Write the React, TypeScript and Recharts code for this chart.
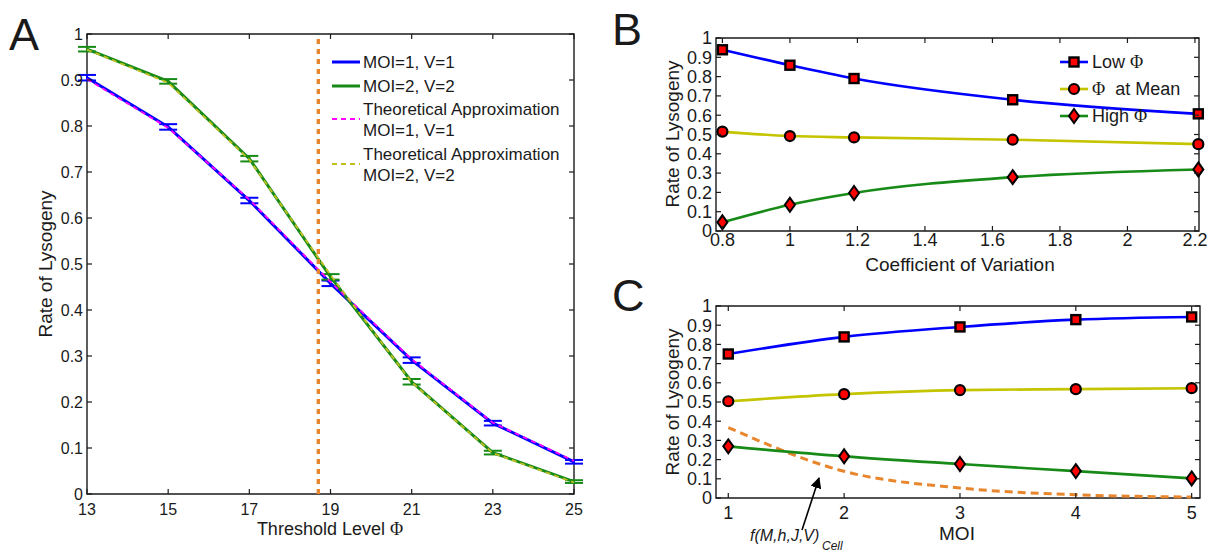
import React from 'react';
import { LineChart, Line, XAxis, YAxis, ReferenceLine, ReferenceArea, ErrorBar } from 'recharts';

const FONT = '"Liberation Sans", Arial, Helvetica, sans-serif';
const SERIF = '"Liberation Serif", "DejaVu Serif", serif';
const INK = '#1a1a1a';
const BLUE = '#0000ff';
const GREEN = '#178a17';
const YELLOW = '#c4c400';
const ORANGE = '#e8862e';

// panel A: rate of lysogeny vs threshold level
const thresholds = [13, 15, 17, 19, 21, 23, 25];
const moi1Sim = [0.905, 0.798, 0.638, 0.458, 0.291, 0.154, 0.07];
const moi1Err = [0.006, 0.006, 0.006, 0.006, 0.006, 0.005, 0.004];
const moi2Sim = [0.967, 0.897, 0.729, 0.472, 0.244, 0.09, 0.027];
const moi2Err = [0.005, 0.005, 0.006, 0.006, 0.006, 0.004, 0.003];
const moi1Theory = [0.902, 0.796, 0.64, 0.461, 0.293, 0.155, 0.072];
const moi2Theory = [0.966, 0.894, 0.727, 0.476, 0.243, 0.089, 0.025];
const meanThreshold = 18.7;
const rateTicks = [0, 0.1, 0.2, 0.3, 0.4, 0.5, 0.6, 0.7, 0.8, 0.9, 1];

// panel B: vs coefficient of variation
const cvValues = [0.8, 1, 1.19, 1.66, 2.21];
const cvTicks = [0.8, 1, 1.2, 1.4, 1.6, 1.8, 2, 2.2];
const lowPhiB = [0.939, 0.859, 0.79, 0.68, 0.607];
const meanPhiB = [0.515, 0.492, 0.485, 0.473, 0.45];
const highPhiB = [0.045, 0.136, 0.197, 0.279, 0.319];

// panel C: vs MOI
const moiValues = [1, 2, 3, 4, 5];
const lowPhiC = [0.75, 0.839, 0.891, 0.929, 0.943];
const meanPhiC = [0.504, 0.541, 0.562, 0.567, 0.572];
const highPhiC = [0.269, 0.217, 0.177, 0.14, 0.102];
const fCell = [0.367, 0.139, 0.052, 0.017, 0.005];

const dataA = thresholds.map((x, i) => ({
  x,
  sim1: moi1Sim[i],
  err1: moi1Err[i],
  sim2: moi2Sim[i],
  err2: moi2Err[i],
  th1: moi1Theory[i],
  th2: moi2Theory[i],
}));
const dataB = cvValues.map((x, i) => ({ x, low: lowPhiB[i], mean: meanPhiB[i], high: highPhiB[i] }));
const dataC = moiValues.map((x, i) => ({ x, low: lowPhiC[i], mean: meanPhiC[i], high: highPhiC[i], f: fCell[i] }));

const Square = ({ cx, cy }: { cx: number; cy: number }) => (
  <rect x={cx - 4.5} y={cy - 4.5} width={9} height={9} fill="#ff0000" stroke="#000" strokeWidth={2.4} />
);
const Dot = ({ cx, cy }: { cx: number; cy: number }) => (
  <circle cx={cx} cy={cy} r={5} fill="#ff0000" stroke="#000" strokeWidth={2.2} />
);
const Diamond = ({ cx, cy }: { cx: number; cy: number }) => (
  <polygon
    points={`${cx},${cy - 7} ${cx + 5},${cy} ${cx},${cy + 7} ${cx - 5},${cy}`}
    fill="#ff0000"
    stroke="#000"
    strokeWidth={2}
  />
);

// matlab-ish inward ticks on all four sides
const yTick = (plotW: number, fontSize: number) => (p: any) => (
  <g>
    <line x1={p.x} x2={p.x + 5} y1={p.y} y2={p.y} stroke={INK} strokeWidth={1.2} />
    <line x1={p.x + plotW} x2={p.x + plotW - 5} y1={p.y} y2={p.y} stroke={INK} strokeWidth={1.2} />
    <text x={p.x - 4} y={p.y} dy="0.35em" textAnchor="end" fontSize={fontSize} fontFamily={FONT} fill={INK}>
      {p.payload.value}
    </text>
  </g>
);
const xTick = (plotH: number, fontSize: number, gap: number) => (p: any) => (
  <g>
    <line x1={p.x} x2={p.x} y1={p.y} y2={p.y - 5} stroke={INK} strokeWidth={1.2} />
    <line x1={p.x} x2={p.x} y1={p.y - plotH} y2={p.y - plotH + 5} stroke={INK} strokeWidth={1.2} />
    <text x={p.x} y={p.y + gap} dy="0.35em" textAnchor="middle" fontSize={fontSize} fontFamily={FONT} fill={INK}>
      {p.payload.value}
    </text>
  </g>
);

const AXW = 40; // y axis box width
const AXH = 30; // x axis box height

const PanelA = () => {
  const margin = { top: 34, right: 26, bottom: 58 - AXH, left: 87 - AXW };
  const w = 600;
  const h = 552;
  const domain: [number, number] = [13, 25];
  return (
    <LineChart width={w} height={h} data={dataA} margin={margin}>
      <XAxis
        dataKey="x"
        type="number"
        domain={domain}
        ticks={thresholds}
        interval={0}
        height={AXH}
        axisLine={false}
        tickLine={false}
        tickSize={0}
        tickMargin={0}
        tick={xTick(h - 34 - 58, 16, 15)}
      />
      <YAxis
        type="number"
        domain={[0, 1]}
        ticks={rateTicks}
        interval={0}
        width={AXW}
        axisLine={false}
        tickLine={false}
        tickSize={0}
        tickMargin={0}
        tick={yTick(w - 87 - 26, 16)}
      />
      <ReferenceArea x1={13} x2={25} y1={0} y2={1} fill="none" stroke={INK} strokeWidth={1.4} />
      <Line dataKey="sim1" stroke={BLUE} strokeWidth={3} dot={false} isAnimationActive={false}>
        <ErrorBar dataKey="err1" width={9} stroke={BLUE} strokeWidth={2} direction="y" isAnimationActive={false} />
      </Line>
      <Line dataKey="sim2" stroke={GREEN} strokeWidth={3} dot={false} isAnimationActive={false}>
        <ErrorBar dataKey="err2" width={9} stroke={GREEN} strokeWidth={2} direction="y" isAnimationActive={false} />
      </Line>
      <Line dataKey="th1" stroke="#ff00ff" strokeWidth={1.8} strokeDasharray="5 4" dot={false} isAnimationActive={false} />
      <Line dataKey="th2" stroke="#bfbf1f" strokeWidth={1.8} strokeDasharray="5 4" dot={false} isAnimationActive={false} />
      <ReferenceLine x={meanThreshold} stroke={ORANGE} strokeWidth={3.4} strokeDasharray="5 5" />
    </LineChart>
  );
};

type MarkerPanelProps = {
  data: any[];
  w: number;
  h: number;
  plot: { top: number; right: number; bottom: number; left: number };
  domain: [number, number];
  ticks: number[];
  gap: number;
  withCell?: boolean;
};

const MarkerPanel = ({ data, w, h, plot, domain, ticks, gap, withCell }: MarkerPanelProps) => (
  <LineChart
    width={w}
    height={h}
    data={data}
    margin={{ top: plot.top, right: plot.right, bottom: plot.bottom - AXH, left: plot.left - AXW }}
  >
    <XAxis
      dataKey="x"
      type="number"
      domain={domain}
      ticks={ticks}
      interval={0}
      height={AXH}
      axisLine={false}
      tickLine={false}
      tickSize={0}
      tickMargin={0}
      tick={xTick(h - plot.top - plot.bottom, 18, gap)}
    />
    <YAxis
      type="number"
      domain={[0, 1]}
      ticks={rateTicks}
      interval={0}
      width={AXW}
      axisLine={false}
      tickLine={false}
      tickSize={0}
      tickMargin={0}
      tick={yTick(w - plot.left - plot.right, 18)}
    />
    <ReferenceArea x1={domain[0]} x2={domain[1]} y1={0} y2={1} fill="none" stroke={INK} strokeWidth={1.4} />
    {withCell && (
      <Line
        dataKey="f"
        type="monotone"
        stroke={ORANGE}
        strokeWidth={3}
        strokeDasharray="8 5"
        dot={false}
        isAnimationActive={false}
      />
    )}
    <Line
      dataKey="low"
      type="monotone"
      stroke={BLUE}
      strokeWidth={2.6}
      isAnimationActive={false}
      dot={(p: any) => <Square key={`s${p.index}`} cx={p.cx} cy={p.cy} />}
    />
    <Line
      dataKey="mean"
      type="monotone"
      stroke={YELLOW}
      strokeWidth={2.6}
      isAnimationActive={false}
      dot={(p: any) => <Dot key={`c${p.index}`} cx={p.cx} cy={p.cy} />}
    />
    <Line
      dataKey="high"
      type="monotone"
      stroke={GREEN}
      strokeWidth={2.6}
      isAnimationActive={false}
      dot={(p: any) => <Diamond key={`d${p.index}`} cx={p.cx} cy={p.cy} />}
    />
  </LineChart>
);

const txt = { fontFamily: FONT, fill: INK } as const;

const Overlay = () => (
  <svg width={1210} height={552} style={{ position: 'absolute', left: 0, top: 0, pointerEvents: 'none' }}>
    {/* panel letters */}
    <text x={9} y={50} fontSize={45} {...txt}>A</text>
    <text x={612} y={45} fontSize={45} {...txt}>B</text>
    <text x={612} y={311} fontSize={45} {...txt}>C</text>

    {/* axis titles */}
    <text x={330} y={529} dy="0.35em" textAnchor="middle" fontSize={18} {...txt}>
      Threshold Level <tspan fontFamily={SERIF}>Φ</tspan>
    </text>
    <text x={45} y={264} dy="0.35em" textAnchor="middle" fontSize={19} transform="rotate(-90 45 264)" {...txt}>
      Rate of Lysogeny
    </text>
    <text x={960} y={264} dy="0.35em" textAnchor="middle" fontSize={19} {...txt}>Coefficient of Variation</text>
    <text x={672} y={134} dy="0.35em" textAnchor="middle" fontSize={19} transform="rotate(-90 672 134)" {...txt}>
      Rate of Lysogeny
    </text>
    <text x={957} y={533} dy="0.35em" textAnchor="middle" fontSize={19} {...txt}>MOI</text>
    <text x={672} y={402} dy="0.35em" textAnchor="middle" fontSize={19} transform="rotate(-90 672 402)" {...txt}>
      Rate of Lysogeny
    </text>

    {/* legend A */}
    <line x1={332} x2={360} y1={62} y2={62} stroke={BLUE} strokeWidth={3} />
    <line x1={332} x2={360} y1={86} y2={86} stroke={GREEN} strokeWidth={3} />
    <line x1={332} x2={360} y1={119} y2={119} stroke="#ff00ff" strokeWidth={1.8} strokeDasharray="5 4" />
    <line x1={332} x2={360} y1={164} y2={164} stroke="#bfbf1f" strokeWidth={1.8} strokeDasharray="5 4" />
    <g fontSize={17} {...txt}>
      <text x={363} y={62} dy="0.35em">MOI=1, V=1</text>
      <text x={363} y={86} dy="0.35em">MOI=2, V=2</text>
      <text x={363} y={109} dy="0.35em">Theoretical Approximation</text>
      <text x={363} y={130} dy="0.35em">MOI=1, V=1</text>
      <text x={363} y={154} dy="0.35em">Theoretical Approximation</text>
      <text x={363} y={175} dy="0.35em">MOI=2, V=2</text>
    </g>

    {/* legend B */}
    <line x1={1060} x2={1088} y1={62} y2={62} stroke={BLUE} strokeWidth={2.6} />
    <Square cx={1074} cy={62} />
    <line x1={1060} x2={1088} y1={89} y2={89} stroke={YELLOW} strokeWidth={2.6} />
    <Dot cx={1074} cy={89} />
    <line x1={1060} x2={1088} y1={116} y2={116} stroke={GREEN} strokeWidth={2.6} />
    <Diamond cx={1074} cy={116} />
    <g fontSize={18} {...txt}>
      <text x={1092} y={62} dy="0.35em">Low <tspan fontFamily={SERIF}>Φ</tspan></text>
      <text x={1092} y={89} dy="0.35em"><tspan fontFamily={SERIF}>Φ</tspan>{'\u00a0\u00a0'}at Mean</text>
      <text x={1092} y={116} dy="0.35em">High <tspan fontFamily={SERIF}>Φ</tspan></text>
    </g>

    {/* annotation in C */}
    <defs>
      <marker id="head" viewBox="0 0 10 10" refX="9" refY="5" markerWidth="7" markerHeight="7" orient="auto">
        <path d="M0,0 L10,5 L0,10 z" fill="#000" />
      </marker>
    </defs>
    <line x1={802} y1={530} x2={819} y2={478} stroke="#000" strokeWidth={1.6} markerEnd="url(#head)" />
    <text x={750} y={541} fontSize={16} fontStyle="italic" {...txt}>f(M,h,J,V)</text>
    <text x={822} y={550} fontSize={12} fontStyle="italic" {...txt}>Cell</text>
  </svg>
);

export default function App() {
  return (
    <div style={{ position: 'absolute', left: 0, top: 0, width: 1210, height: 552, background: '#fff', overflow: 'hidden' }}>
      <div style={{ position: 'absolute', left: 0, top: 0 }}>
        <PanelA />
      </div>
      <div style={{ position: 'absolute', left: 600, top: 0 }}>
        <MarkerPanel
          data={dataB}
          w={610}
          h={280}
          plot={{ top: 38, right: 11, bottom: 49, left: 116 }}
          domain={[0.781, 2.212]}
          ticks={cvTicks}
          gap={9}
        />
      </div>
      <div style={{ position: 'absolute', left: 600, top: 270 }}>
        <MarkerPanel
          data={dataC}
          w={610}
          h={282}
          plot={{ top: 36, right: 10, bottom: 54, left: 116 }}
          domain={[0.894, 5.072]}
          ticks={moiValues}
          gap={15}
          withCell
        />
      </div>
      <Overlay />
    </div>
  );
}
